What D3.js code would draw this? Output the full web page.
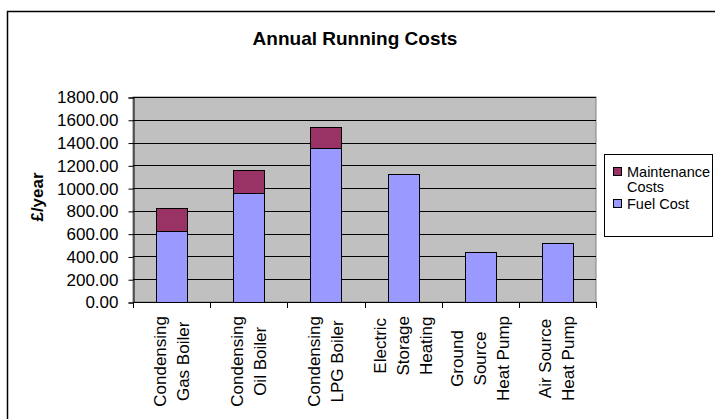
<!DOCTYPE html>
<html>
<head>
<meta charset="utf-8">
<script src="https://cdn.jsdelivr.net/npm/d3@7.9.0/dist/d3.min.js"></script>
<style>
  body { margin: 0; background: #fff; }
  svg { display: block; font-family: "Liberation Sans", Arial, sans-serif; }
</style>
</head>
<body>
<svg width="715" height="419"></svg>
<script>
// data
const categories = [
  ['Condensing', 'Gas Boiler'],
  ['Condensing', 'Oil Boiler'],
  ['Condensing', 'LPG Boiler'],
  ['Electric', 'Storage', 'Heating'],
  ['Ground', 'Source', 'Heat Pump'],
  ['Air Source', 'Heat Pump']
];
const fuelCost = [625, 960, 1350, 1125, 440, 520];
const maintenanceCosts = [200, 200, 190, 0, 0, 0];
const yTicks = [0, 200, 400, 600, 800, 1000, 1200, 1400, 1600, 1800];

const svg = d3.select('svg');

// outer chart border (only top and left show in the crop)
svg.append('rect')
  .attr('x', 7.5).attr('y', 11.5)
  .attr('width', 800).attr('height', 600)
  .attr('fill', 'none').attr('stroke', '#000').attr('stroke-width', 1.5);

svg.append('text')
  .attr('x', 355).attr('y', 45)
  .attr('text-anchor', 'middle')
  .attr('font-size', 19).attr('font-weight', 'bold')
  .text('Annual Running Costs');

const plot = { left: 133, right: 596, top: 97, bottom: 302 };

let x = d3.scaleBand()
  .domain(d3.range(categories.length))
  .range([plot.left, plot.right])
  .paddingInner(0.6).paddingOuter(0.3);

let y = d3.scaleLinear().domain([0, 1800]).range([plot.bottom, plot.top]);

// plot area
svg.append('rect')
  .attr('x', plot.left).attr('y', plot.top)
  .attr('width', plot.right - plot.left).attr('height', plot.bottom - plot.top)
  .attr('fill', '#c0c0c0').attr('stroke', '#808080');

// gridlines
svg.append('g').selectAll('line')
  .data(yTicks.filter(d => d > 0))
  .join('line')
  .attr('x1', plot.left).attr('x2', plot.right)
  .attr('y1', d => Math.round(y(d)) + 0.5).attr('y2', d => Math.round(y(d)) + 0.5)
  .attr('stroke', '#000');

// stacked bars
let stack = d3.stack().keys(['fuel', 'maint'])(
  fuelCost.map((f, i) => ({ fuel: f, maint: maintenanceCosts[i] }))
);
let colors = { fuel: '#9999ff', maint: '#993366' };

stack.forEach(layer => {
  svg.append('g').selectAll('rect')
    .data(layer.filter(d => d[1] > d[0]).map(d => ({ d, i: layer.indexOf(d) })))
    .join('rect')
    .attr('x', d => Math.round(x(d.i)) + 0.5)
    .attr('y', d => Math.round(y(d.d[1])) + 0.5)
    .attr('width', Math.round(x.bandwidth()))
    .attr('height', d => Math.round(y(d.d[0])) - Math.round(y(d.d[1])))
    .attr('fill', colors[layer.key])
    .attr('stroke', '#000').attr('stroke-width', 1);
});

// y axis
let yAxis = d3.axisLeft(y).tickValues(yTicks).tickSize(5).tickPadding(10)
  .tickFormat(d3.format('.2f'));
let yg = svg.append('g').attr('transform', `translate(${plot.left + 0.5},0.5)`).call(yAxis);
yg.select('.domain').attr('stroke', '#000');
yg.selectAll('text').attr('font-size', 17).attr('fill', '#000')
  .attr('font-family', '"Liberation Sans", Arial, sans-serif');

// x axis line + ticks at band boundaries
let step = x.step();
let bounds = d3.range(categories.length + 1).map(i => plot.left + i * step);
svg.append('line')
  .attr('x1', plot.left).attr('x2', plot.right)
  .attr('y1', plot.bottom + 0.5).attr('y2', plot.bottom + 0.5)
  .attr('stroke', '#000');
svg.append('g').selectAll('line')
  .data(bounds)
  .join('line')
  .attr('x1', d => Math.round(d) + 0.5).attr('x2', d => Math.round(d) + 0.5)
  .attr('y1', plot.bottom).attr('y2', plot.bottom + 6)
  .attr('stroke', '#000');

// category labels, rotated, one column per line
const lineGap = 23;
categories.forEach((lines, i) => {
  let cx = x(i) + x.bandwidth() / 2;
  let g = svg.append('g');
  let texts = lines.map((t, j) => g.append('text')
    .attr('font-size', 17)
    .attr('text-anchor', 'middle')
    .attr('dominant-baseline', 'central')
    .text(t));
  let maxW = d3.max(texts, t => t.node().getComputedTextLength());
  let cy = 316 + maxW / 2;
  texts.forEach((t, j) => {
    let lx = cx + (j - (lines.length - 1) / 2) * lineGap;
    t.attr('transform', `translate(${lx},${cy}) rotate(-90)`);
  });
});

// y axis title
svg.append('text')
  .attr('transform', 'translate(37,197) rotate(-90)')
  .attr('text-anchor', 'middle')
  .attr('dominant-baseline', 'central')
  .attr('font-size', 17).attr('font-weight', 'bold')
  .text('£/year');

// legend
let legend = svg.append('g');
legend.append('rect')
  .attr('x', 604.5).attr('y', 154.5).attr('width', 108).attr('height', 82)
  .attr('fill', '#fff').attr('stroke', '#000');
const legendItems = [
  { lines: ['Maintenance', 'Costs'], color: colors.maint, y: 172 },
  { lines: ['Fuel Cost'], color: colors.fuel, y: 204 }
];
legendItems.forEach(d => {
  legend.append('rect')
    .attr('x', 613.5).attr('y', d.y - 4.5).attr('width', 8).attr('height', 8)
    .attr('fill', d.color).attr('stroke', '#000');
  d.lines.forEach((t, j) => {
    legend.append('text')
      .attr('x', 627).attr('y', d.y + j * 15)
      .attr('dominant-baseline', 'central')
      .attr('font-size', 14.5)
      .text(t);
  });
});
</script>
</body>
</html>
